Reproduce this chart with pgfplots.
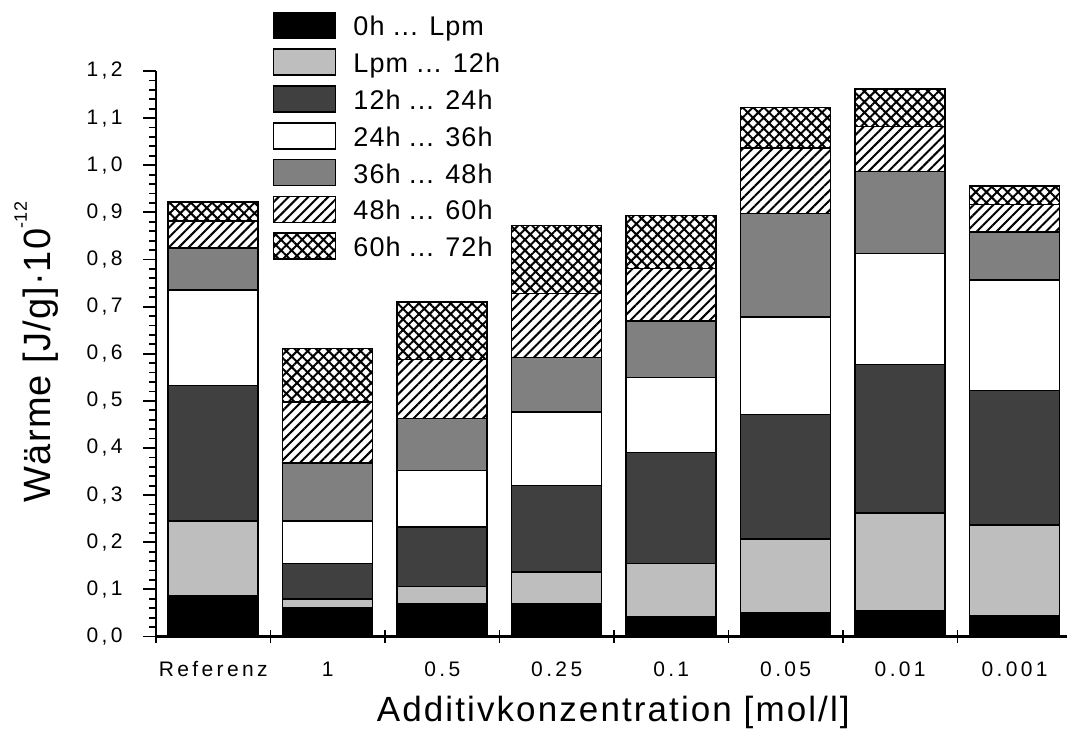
\documentclass[border=0pt]{standalone}
\usepackage{fontspec}
\setmainfont{Liberation Sans}
\newfontfamily\tickfont[LetterSpace=16]{Liberation Sans}
\newfontfamily\legfont[LetterSpace=4]{Liberation Sans}
\newfontfamily\labfont[LetterSpace=6]{Liberation Sans}
\newfontfamily\ylabfont[LetterSpace=3]{Liberation Sans}
\usepackage{pgfplots}
\pgfplotsset{compat=1.18}
\usetikzlibrary{patterns.meta}
\definecolor{lgray}{HTML}{BEBEBE}
\definecolor{dgray}{HTML}{404040}
\definecolor{mgray}{HTML}{808080}
\begin{document}
\begin{tikzpicture}
\begin{axis}[
  width=911bp, height=565.5bp, scale only axis,
  ybar stacked, bar width=90bp,
  xmin=-0.5, xmax=7.457, ymin=0, ymax=1.2,
  axis x line*=bottom, axis y line*=left,
  axis line style={line width=2.2bp},
  xtick={-0.5,0.5,1.5,2.5,3.5,4.5,5.5,6.5}, xticklabels={},
  extra x ticks={0,1,2,3,4,5,6,7},
  extra x tick labels={Referenz,1,0.5,0.25,0.1,0.05,0.01,0.001},
  extra x tick style={tick style={draw=none}, xticklabel style={anchor=base, yshift=-33.5bp}},
  xtick align=center, ytick align=outside,
  ytick={0,0.1,0.2,0.3,0.4,0.5,0.6,0.7,0.8,0.9,1.0,1.1,1.2},
  minor y tick num=4,
  major tick length=13bp, minor tick length=6.5bp,
  tick style={line width=1.8bp, black},
  ticklabel style={font=\tickfont\fontsize{21bp}{25bp}\selectfont},
  /pgf/number format/assume math mode=true,
  yticklabel style={xshift=-17bp, /pgf/number format/.cd, fixed, fixed zerofill, precision=1, use comma},
  xlabel={Additivkonzentration [mol/l]},
  xlabel style={at={(axis description cs:0.502,-0.1507)}, anchor=base, font=\labfont\fontsize{35bp}{40bp}\selectfont},
  ylabel={Wärme [J/g]·10\raisebox{24bp}{\fontsize{18bp}{18bp}\selectfont -12}},
  ylabel style={at={(axis description cs:-0.1153,0.5035)}, anchor=base, font=\ylabfont\fontsize{38bp}{42bp}\selectfont},
  legend style={at={(axis description cs:0.1284,1.1049)}, anchor=north west, draw=none, fill=none,
    inner sep=0pt, outer sep=0pt, nodes={inner sep=0pt},
    font=\legfont\fontsize{27bp}{30bp}\selectfont, row sep=9.3bp, column sep=17bp},
  legend cell align=left,
  every axis plot post/.append style={draw=black, line width=1.5bp,
    legend image code/.code={\draw[##1, line width=1.5bp] (0bp,-11.5bp) rectangle (62bp,14.5bp);}},
]
\addplot[fill=black] coordinates {(0,0.087) (1,0.062) (2,0.070) (3,0.070) (4,0.042) (5,0.051) (6,0.055) (7,0.043)};
\addlegendentry{0h ... Lpm}
\addplot[fill=lgray] coordinates {(0,0.158) (1,0.018) (2,0.036) (3,0.067) (4,0.113) (5,0.156) (6,0.207) (7,0.194)};
\addlegendentry{Lpm ... 12h}
\addplot[fill=dgray] coordinates {(0,0.288) (1,0.075) (2,0.126) (3,0.183) (4,0.235) (5,0.264) (6,0.315) (7,0.285)};
\addlegendentry{12h ... 24h}
\addplot[fill=white] coordinates {(0,0.202) (1,0.090) (2,0.120) (3,0.156) (4,0.160) (5,0.207) (6,0.236) (7,0.235)};
\addlegendentry{24h ... 36h}
\addplot[fill=mgray] coordinates {(0,0.089) (1,0.123) (2,0.111) (3,0.116) (4,0.120) (5,0.220) (6,0.174) (7,0.101)};
\addlegendentry{36h ... 48h}
\addplot[pattern={Lines[angle=45,distance=7bp,line width=2bp]}] coordinates {(0,0.058) (1,0.130) (2,0.125) (3,0.136) (4,0.111) (5,0.139) (6,0.095) (7,0.059)};
\addlegendentry{48h ... 60h}
\addplot[pattern={Hatch[angle=45,distance=7.5bp,line width=2bp]}] coordinates {(0,0.040) (1,0.113) (2,0.122) (3,0.144) (4,0.112) (5,0.086) (6,0.080) (7,0.039)};
\addlegendentry{60h ... 72h}
\end{axis}
\pgfresetboundingbox
\path[use as bounding box] (-156bp,-96.5bp) rectangle (911bp,636.5bp);
\end{tikzpicture}
\end{document}
